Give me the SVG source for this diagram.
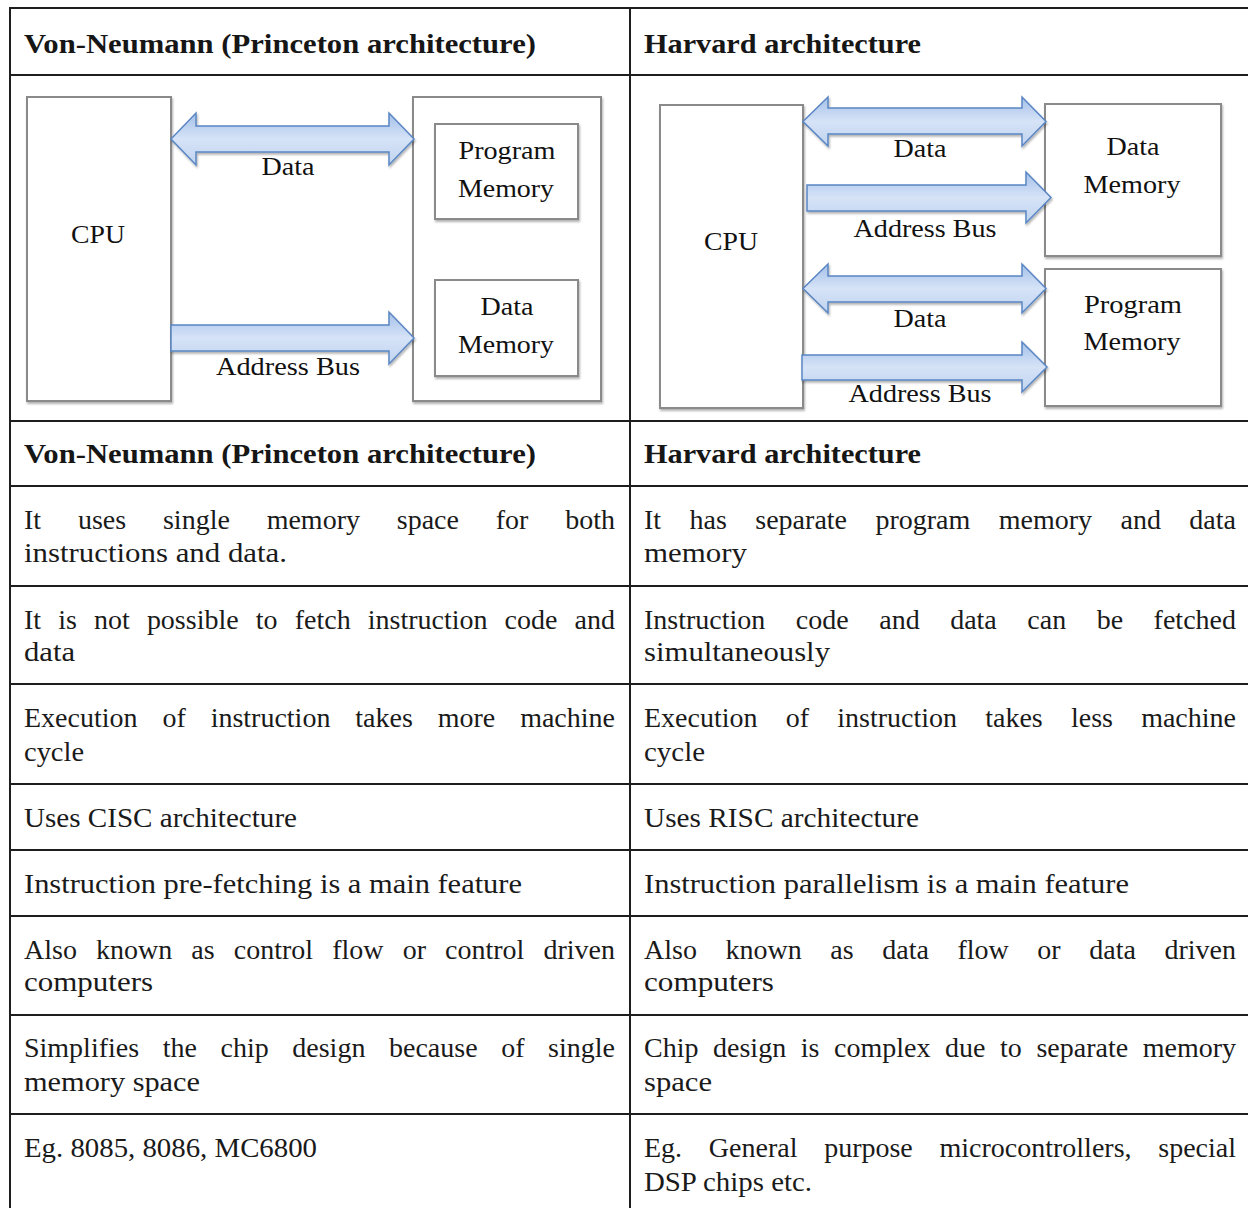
<svg xmlns="http://www.w3.org/2000/svg" width="1248" height="1208" viewBox="0 0 1248 1208">
<style>
.grid{stroke:#1e1e1e;stroke-width:2;fill:none}
.box{fill:#fff;stroke:#8a8a8a;stroke-width:2}
.arrow{fill:url(#ag);stroke:#5a86c4;stroke-width:1.5;stroke-linejoin:miter}
.lbl{font-family:"Liberation Serif","Times New Roman",serif;font-size:26px;fill:#111;text-anchor:middle}
.hd{font-family:"Liberation Serif","Times New Roman",serif;font-size:28px;font-weight:bold;fill:#161616}
.tx{font-family:"Liberation Serif","Times New Roman",serif;font-size:28px;fill:#1a1a1a}
</style>
<defs>
<linearGradient id="ag" x1="0" y1="0" x2="0" y2="1">
<stop offset="0" stop-color="#a4c0e9"/>
<stop offset="0.5" stop-color="#d6e3f7"/>
<stop offset="1" stop-color="#bfd3ef"/>
</linearGradient>
<filter id="sh" x="-10%" y="-10%" width="120%" height="130%">
<feDropShadow dx="1" dy="2" stdDeviation="1.2" flood-color="#000" flood-opacity="0.3"/>
</filter>
</defs>
<rect width="1248" height="1208" fill="#fff"/>

<g id="table">
<line class="grid" x1="10" y1="8" x2="1248" y2="8"/>
<line class="grid" x1="10" y1="75" x2="1248" y2="75"/>
<line class="grid" x1="10" y1="421" x2="1248" y2="421"/>
<line class="grid" x1="10" y1="486" x2="1248" y2="486"/>
<line class="grid" x1="10" y1="586" x2="1248" y2="586"/>
<line class="grid" x1="10" y1="684" x2="1248" y2="684"/>
<line class="grid" x1="10" y1="784" x2="1248" y2="784"/>
<line class="grid" x1="10" y1="850" x2="1248" y2="850"/>
<line class="grid" x1="10" y1="916" x2="1248" y2="916"/>
<line class="grid" x1="10" y1="1015" x2="1248" y2="1015"/>
<line class="grid" x1="10" y1="1114" x2="1248" y2="1114"/>
<line class="grid" x1="10" y1="7" x2="10" y2="1208"/>
<line class="grid" x1="630" y1="7" x2="630" y2="1208"/>
</g>

<g id="vn-cpu"><rect class="box" x="27" y="97" width="144" height="304" filter="url(#sh)"/>
<text class="lbl" x="98" y="243" textLength="54" lengthAdjust="spacingAndGlyphs">CPU</text></g>
<g id="vn-memory"><rect class="box" x="413" y="97" width="188" height="304" filter="url(#sh)"/></g>
<g id="vn-program-memory"><rect class="box" x="435" y="124" width="143" height="95" filter="url(#sh)"/>
<text class="lbl" x="507" y="159" textLength="97" lengthAdjust="spacingAndGlyphs">Program</text>
<text class="lbl" x="506" y="197" textLength="96" lengthAdjust="spacingAndGlyphs">Memory</text></g>
<g id="vn-data-memory"><rect class="box" x="435" y="280" width="143" height="96" filter="url(#sh)"/>
<text class="lbl" x="507" y="315" textLength="53" lengthAdjust="spacingAndGlyphs">Data</text>
<text class="lbl" x="506" y="353" textLength="96" lengthAdjust="spacingAndGlyphs">Memory</text></g>

<g id="hv-cpu"><rect class="box" x="660" y="105" width="143" height="303" filter="url(#sh)"/>
<text class="lbl" x="731" y="250" textLength="54" lengthAdjust="spacingAndGlyphs">CPU</text></g>
<g id="hv-data-memory"><rect class="box" x="1045" y="104" width="176" height="152" filter="url(#sh)"/>
<text class="lbl" x="1133" y="155" textLength="53" lengthAdjust="spacingAndGlyphs">Data</text>
<text class="lbl" x="1132" y="193" textLength="97" lengthAdjust="spacingAndGlyphs">Memory</text></g>
<g id="hv-program-memory"><rect class="box" x="1045" y="269" width="176" height="137" filter="url(#sh)"/>
<text class="lbl" x="1133" y="313" textLength="98" lengthAdjust="spacingAndGlyphs">Program</text>
<text class="lbl" x="1132" y="350" textLength="97" lengthAdjust="spacingAndGlyphs">Memory</text></g>

<g id="connectors">
<path class="arrow" filter="url(#sh)" d="M171,139 L196,113 L196,126 L389,126 L389,113 L414,139 L389,165 L389,152 L196,152 L196,165 Z"/>
<path class="arrow" filter="url(#sh)" d="M171,325 L389,325 L389,312 L414,338 L389,364 L389,351 L171,351 Z"/>
<path class="arrow" filter="url(#sh)" d="M803,121.5 L828,97 L828,108 L1022,108 L1022,97 L1046,121.5 L1022,146 L1022,134 L828,134 L828,146 Z"/>
<path class="arrow" filter="url(#sh)" d="M807,185 L1026,185 L1026,172 L1051,197.5 L1026,223 L1026,211 L807,211 Z"/>
<path class="arrow" filter="url(#sh)" d="M803,288.5 L828,264 L828,276 L1022,276 L1022,264 L1046,288.5 L1022,313 L1022,302 L828,302 L828,313 Z"/>
<path class="arrow" filter="url(#sh)" d="M802,355 L1022,355 L1022,342 L1047,367 L1022,392 L1022,380 L802,380 Z"/>
<text class="lbl" x="288" y="175" textLength="53" lengthAdjust="spacingAndGlyphs">Data</text>
<text class="lbl" x="288" y="375" textLength="144" lengthAdjust="spacingAndGlyphs">Address Bus</text>
<text class="lbl" x="920" y="157" textLength="53" lengthAdjust="spacingAndGlyphs">Data</text>
<text class="lbl" x="925" y="237" textLength="143" lengthAdjust="spacingAndGlyphs">Address Bus</text>
<text class="lbl" x="920" y="327" textLength="53" lengthAdjust="spacingAndGlyphs">Data</text>
<text class="lbl" x="920" y="402" textLength="143" lengthAdjust="spacingAndGlyphs">Address Bus</text>
</g>

<g id="headers">
<text class="hd" x="24" y="53" textLength="512" lengthAdjust="spacingAndGlyphs">Von-Neumann (Princeton architecture)</text>
<text class="hd" x="644" y="53" textLength="277" lengthAdjust="spacingAndGlyphs">Harvard architecture</text>
<text class="hd" x="24" y="463" textLength="512" lengthAdjust="spacingAndGlyphs">Von-Neumann (Princeton architecture)</text>
<text class="hd" x="644" y="463" textLength="277" lengthAdjust="spacingAndGlyphs">Harvard architecture</text>
</g>

<g id="left-column">
<text class="tx" x="24" y="529" word-spacing="29.8" textLength="591" lengthAdjust="spacing">It uses single memory space for both</text>
<text class="tx" x="24" y="562" textLength="263" lengthAdjust="spacingAndGlyphs">instructions and data.</text>
<text class="tx" x="24" y="629" word-spacing="10.1" textLength="591" lengthAdjust="spacing">It is not possible to fetch instruction code and</text>
<text class="tx" x="24" y="661" textLength="51" lengthAdjust="spacingAndGlyphs">data</text>
<text class="tx" x="24" y="727" word-spacing="17.9" textLength="591" lengthAdjust="spacing">Execution of instruction takes more machine</text>
<text class="tx" x="24" y="761" textLength="60" lengthAdjust="spacingAndGlyphs">cycle</text>
<text class="tx" x="24" y="827" textLength="273" lengthAdjust="spacingAndGlyphs">Uses CISC architecture</text>
<text class="tx" x="24" y="893" textLength="498" lengthAdjust="spacingAndGlyphs">Instruction pre-fetching is a main feature</text>
<text class="tx" x="24" y="959" word-spacing="12.1" textLength="591" lengthAdjust="spacing">Also known as control flow or control driven</text>
<text class="tx" x="24" y="991" textLength="129" lengthAdjust="spacingAndGlyphs">computers</text>
<text class="tx" x="24" y="1057" word-spacing="16.6" textLength="591" lengthAdjust="spacing">Simplifies the chip design because of single</text>
<text class="tx" x="24" y="1091" textLength="176" lengthAdjust="spacingAndGlyphs">memory space</text>
<text class="tx" x="24" y="1157" textLength="293" lengthAdjust="spacingAndGlyphs">Eg. 8085, 8086, MC6800</text>
</g>

<g id="right-column">
<text class="tx" x="644" y="529" word-spacing="21.4" textLength="592" lengthAdjust="spacing">It has separate program memory and data</text>
<text class="tx" x="644" y="562" textLength="103" lengthAdjust="spacingAndGlyphs">memory</text>
<text class="tx" x="644" y="629" word-spacing="23.5" textLength="592" lengthAdjust="spacing">Instruction code and data can be fetched</text>
<text class="tx" x="644" y="661" textLength="186" lengthAdjust="spacingAndGlyphs">simultaneously</text>
<text class="tx" x="644" y="727" word-spacing="21.2" textLength="592" lengthAdjust="spacing">Execution of instruction takes less machine</text>
<text class="tx" x="644" y="761" textLength="61" lengthAdjust="spacingAndGlyphs">cycle</text>
<text class="tx" x="644" y="827" textLength="275" lengthAdjust="spacingAndGlyphs">Uses RISC architecture</text>
<text class="tx" x="644" y="893" textLength="485" lengthAdjust="spacingAndGlyphs">Instruction parallelism is a main feature</text>
<text class="tx" x="644" y="959" word-spacing="21.6" textLength="592" lengthAdjust="spacing">Also known as data flow or data driven</text>
<text class="tx" x="644" y="991" textLength="130" lengthAdjust="spacingAndGlyphs">computers</text>
<text class="tx" x="644" y="1057" word-spacing="7.6" textLength="592" lengthAdjust="spacing">Chip design is complex due to separate memory</text>
<text class="tx" x="644" y="1091" textLength="68" lengthAdjust="spacingAndGlyphs">space</text>
<text class="tx" x="644" y="1157" word-spacing="19.7" textLength="592" lengthAdjust="spacing">Eg. General purpose microcontrollers, special</text>
<text class="tx" x="644" y="1191" textLength="168" lengthAdjust="spacingAndGlyphs">DSP chips etc.</text>
</g>
</svg>
